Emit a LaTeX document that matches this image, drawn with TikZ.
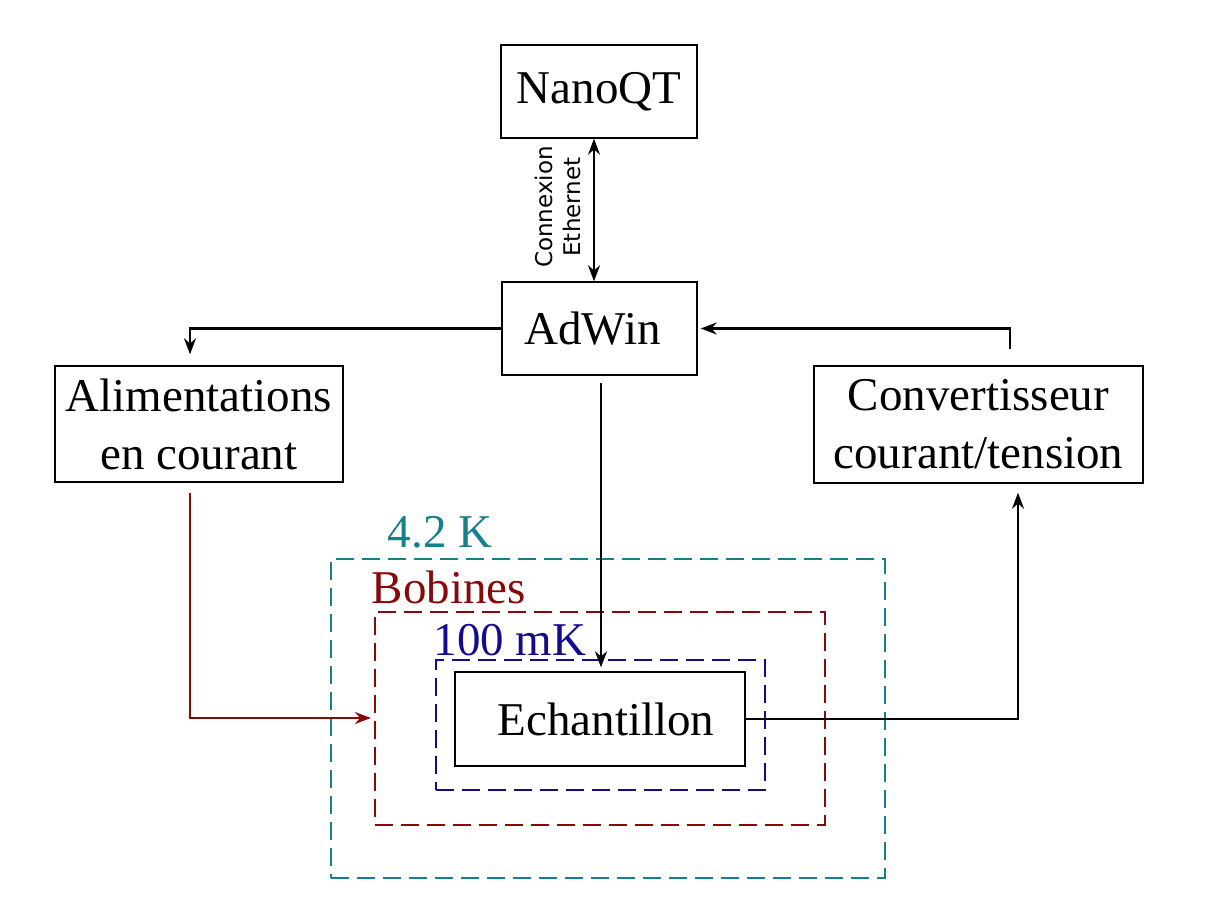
\documentclass[tikz,border=0pt]{standalone}
\usepackage{fontspec}
\setmainfont{Liberation Serif}
\newfontfamily\labelsans{DejaVu Sans}
\usetikzlibrary{arrows.meta,calc}
\definecolor{cteal}{RGB}{20,128,138}
\definecolor{cred}{RGB}{135,10,10}
\definecolor{cblue}{RGB}{20,10,140}
\begin{document}
\begin{tikzpicture}[x=0.5pt,y=-0.5pt,
  txt/.style={font=\fontsize{23.5}{29}\selectfont, inner sep=0pt, align=center},
  box/.style={txt, draw, line width=0.7pt},
  zone/.style={draw, line width=1.1pt, dash pattern=on 9pt off 4pt, inner sep=0pt},
  arr/.style={line width=1.15pt, -{Stealth[length=8pt,width=6pt]}},
  darr/.style={line width=1.15pt, {Stealth[length=8pt,width=6pt]}-{Stealth[length=8pt,width=6pt]}}]
\useasboundingbox (0,0) rectangle (1227,899);
% zones
\node[zone, cteal, minimum width=277pt, minimum height=159.5pt] (kzone) at (608,718.5) {};
\node[zone, cred, minimum width=225pt, minimum height=106.5pt] (bob) at (600,718.5) {};
\node[zone, cblue, minimum width=164.5pt, minimum height=65pt] (mk) at (600.5,725) {};
\node[txt, text=cteal] (lk) at (440,532) {4.2 K};
\node[txt, text=cred] (lbob) at (449,587) {Bobines};
\node[txt, text=cblue] (lmk) at (510,640) {100 mK};
% boxes
\node[box, minimum width=98pt, minimum height=46.5pt] (nano) at (599,91.5) {NanoQT};
\node[box, minimum width=97.5pt, minimum height=46.5pt] (adwin) at (599.5,328.5) {\hspace*{-7pt}AdWin};
\node[box, minimum width=144pt, minimum height=58pt] (alim) at (199,424) {Alimentations\\en courant};
\node[box, minimum width=164.5pt, minimum height=58.5pt] (conv) at (978.5,424.5) {Convertisseur\\courant/tension};
\node[box, fill=white, minimum width=145pt, minimum height=47pt] (ech) at (600,719) {\hspace*{6pt}Echantillon};
\node[font=\labelsans\fontsize{11.5}{14}\selectfont, rotate=90, align=center, inner sep=0pt] (eth) at (558,207) {Connexion\\Ethernet};
% connectors
\draw[darr] ($(nano.south)+(-5,0)$) -- ($(adwin.north)+(-5.5,0)$);
\draw[arr] (adwin.west) -| ($(alim.north)+(-9,-11)$);
\draw[arr] ($(conv.north)+(31.5,-16)$) |- ($(adwin.east)+(3,0)$);
\draw[arr] ($(adwin.south)+(1.5,7)$) -- ($(ech.north)+(1,-4)$);
\draw[arr, cred] ($(alim.south)+(-9,10)$) |- ($(bob.west)+(-3,-0.5)$);
\draw[arr] (ech.east) -| ($(conv.south)+(39.5,9)$);
\end{tikzpicture}
\end{document}
